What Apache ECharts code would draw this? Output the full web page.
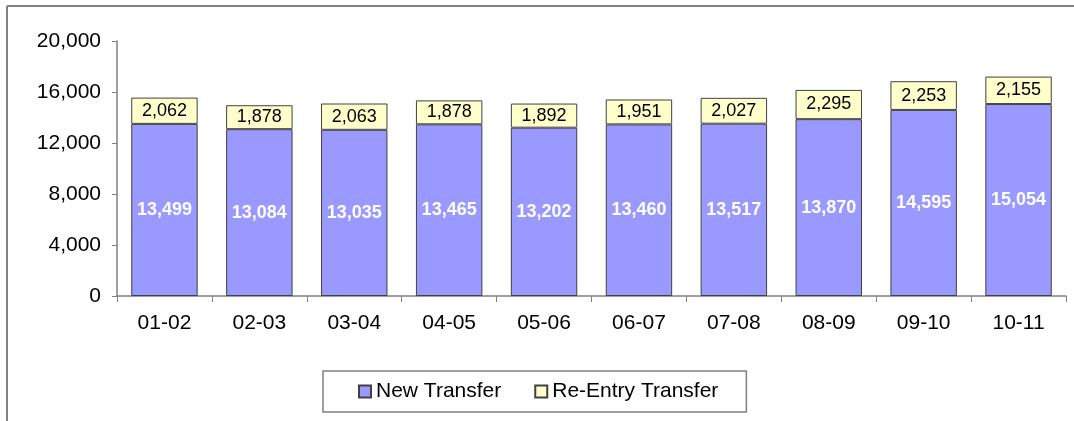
<!DOCTYPE html>
<html>
<head>
<meta charset="utf-8">
<script src="https://cdn.jsdelivr.net/npm/echarts@6/dist/echarts.min.js"></script>
<style>
  html, body { margin: 0; padding: 0; background: #fff; }
  #chart { width: 1074px; height: 421px; }
</style>
</head>
<body>
<div id="chart"></div>
<script>
// school years
var years = ['01-02', '02-03', '03-04', '04-05', '05-06', '06-07', '07-08', '08-09', '09-10', '10-11'];
// new transfers (bottom part of each bar)
var newTransfer = [13499, 13084, 13035, 13465, 13202, 13460, 13517, 13870, 14595, 15054];
// re-entry transfers (top part)
var reEntryTransfer = [2062, 1878, 2063, 1878, 1892, 1951, 2027, 2295, 2253, 2155];
var yTicks = [0, 4000, 8000, 12000, 16000, 20000];

function fmt(v) {
    return v.toString().replace(/\B(?=(\d{3})+(?!\d))/g, ',');
}

var myChart = echarts.init(document.getElementById('chart'));
var option = {
    animation: false,
    textStyle: { fontFamily: 'Liberation Sans, Arial, sans-serif' },
    graphic: [
        { type: 'line', shape: { x1: 7, y1: 6, x2: 1074, y2: 6 }, style: { stroke: '#808080', lineWidth: 2 } },
        { type: 'line', shape: { x1: 7, y1: 6, x2: 7, y2: 421 }, style: { stroke: '#808080', lineWidth: 2 } }
    ],
    grid: { left: 117, right: 8, top: 41, bottom: 125 },
    legend: {
        bottom: 9,
        left: 323,
        itemWidth: 12,
        itemHeight: 12,
        itemGap: 33,
        padding: [10, 28, 10, 35],
        borderColor: '#808080',
        borderWidth: 1.5,
        textStyle: { fontSize: 21, color: '#000' },
        data: [
            { name: 'New Transfer', icon: 'rect' },
            { name: 'Re-Entry Transfer', icon: 'rect' }
        ]
    },
    xAxis: {
        type: 'category',
        data: years,
        axisLine: { lineStyle: { color: '#808080', width: 1.5 } },
        axisTick: { show: true, length: 6, lineStyle: { color: '#808080' } },
        axisLabel: { fontSize: 21, color: '#000', margin: 17 }
    },
    yAxis: {
        type: 'value',
        min: 0,
        max: 20000,
        interval: 4000,
        splitLine: { show: false },
        axisLine: { show: true, lineStyle: { color: '#808080', width: 1.5 } },
        axisTick: { show: true, length: 5, lineStyle: { color: '#808080' } },
        axisLabel: {
            fontSize: 21,
            color: '#000',
            margin: 16,
            formatter: function (v) { return yTicks.indexOf(v) >= 0 ? fmt(v) : ''; }
        }
    },
    series: [
        {
            name: 'New Transfer',
            type: 'bar',
            stack: 'total',
            barCategoryGap: '30%',
            data: newTransfer,
            itemStyle: { color: '#9999FF', borderColor: '#404040', borderWidth: 1 },
            label: {
                show: true,
                position: 'inside',
                color: '#fff',
                fontWeight: 'bold',
                fontSize: 18,
                formatter: function (p) { return fmt(p.value); }
            }
        },
        {
            name: 'Re-Entry Transfer',
            type: 'bar',
            stack: 'total',
            data: reEntryTransfer,
            itemStyle: { color: '#FFFFCC', borderColor: '#404040', borderWidth: 1 },
            label: {
                show: true,
                position: 'inside',
                color: '#000',
                fontSize: 18,
                formatter: function (p) { return fmt(p.value); }
            }
        }
    ]
};
myChart.setOption(option);
window.addEventListener('resize', function () {
    myChart.resize();
});
</script>
</body>
</html>
